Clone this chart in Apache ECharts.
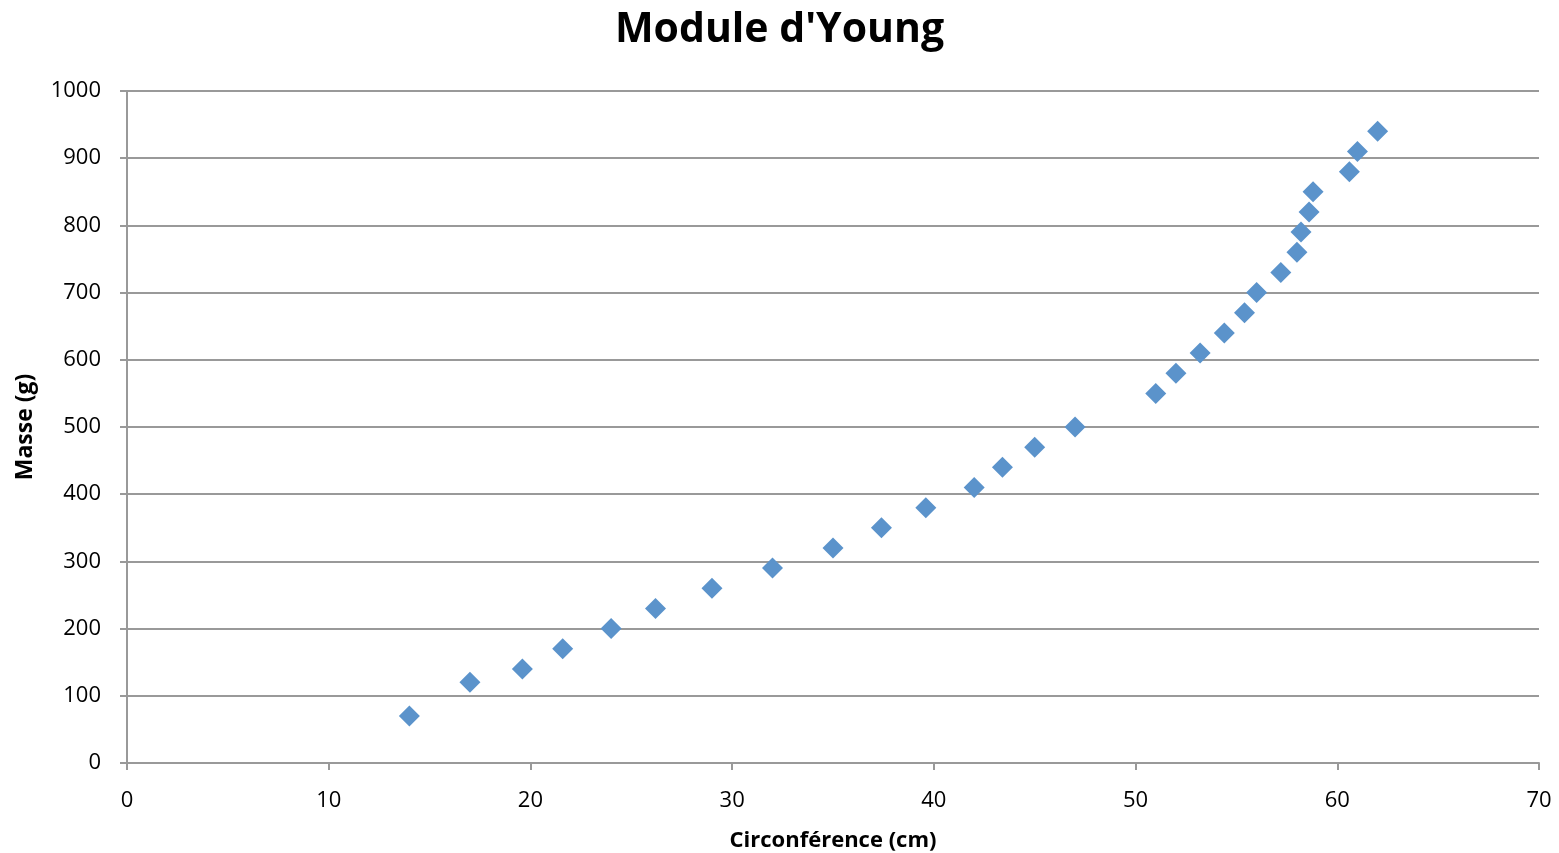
<!DOCTYPE html>
<html><head><meta charset="utf-8">
<script src="https://cdn.jsdelivr.net/npm/echarts@6/dist/echarts.min.js"></script>
<style>html,body{margin:0;padding:0;background:#fff}#c{width:1559px;height:853px}</style>
</head><body><div id="c"></div>
<script>
const circumference = [14.0, 17.0, 19.6, 21.6, 24.0, 26.2, 29.0, 32.0, 35.0, 37.4, 39.6, 42.0, 43.4, 45.0, 47.0, 51.0, 52.0, 53.2, 54.4, 55.4, 56.0, 57.2, 58.0, 58.2, 58.6, 58.8, 60.6, 61.0, 62.0];
const masse = [70, 120, 140, 170, 200, 230, 260, 290, 320, 350, 380, 410, 440, 470, 500, 550, 580, 610, 640, 670, 700, 730, 760, 790, 820, 850, 880, 910, 940];
const points = circumference.map((c, i) => [c, masse[i]]);
const font = "'Open Sans', 'Liberation Sans', sans-serif";
const chart = echarts.init(document.getElementById('c'));
chart.setOption({
  animation: false,
  title: { text: "Module d'Young", left: 'center', top: 5,
    textStyle: { fontFamily: font, fontSize: 41, fontWeight: 'bold', color: '#000' } },
  grid: { left: 127, right: 20, top: 91, bottom: 90, outerBoundsMode: 'none', containLabel: false },
  xAxis: { type: 'value', min: 0, max: 70, interval: 10,
    name: 'Circonférence (cm)', nameLocation: 'middle', nameGap: 67,
    nameTextStyle: { fontFamily: font, fontSize: 22, fontWeight: 'bold', color: '#000' },
    axisLine: { lineStyle: { color: '#999', width: 2 } },
    axisTick: { show: true, inside: false, length: 7, lineStyle: { color: '#999', width: 2 } },
    axisLabel: { fontFamily: font, fontSize: 22, color: '#000', margin: 27 },
    splitLine: { show: false } },
  yAxis: { type: 'value', min: 0, max: 1000, interval: 100,
    name: 'Masse (g)', nameLocation: 'middle', nameGap: 90, nameRotate: 90,
    nameTextStyle: { fontFamily: font, fontSize: 23, fontWeight: 'bold', color: '#000' },
    axisLine: { show: true, lineStyle: { color: '#999', width: 2 } },
    axisTick: { show: true, inside: false, length: 7, lineStyle: { color: '#999', width: 2 } },
    axisLabel: { fontFamily: font, fontSize: 22, color: '#000', margin: 26, padding: [6, 0, 0, 0], formatter: v => String(v) },
    splitLine: { show: true, lineStyle: { color: '#999', width: 2 } } },
  series: [{ type: 'scatter', data: points, symbol: 'diamond', symbolSize: [21, 21],
    itemStyle: { color: '#5b93cb', opacity: 1 } }]
});
</script></body></html>
